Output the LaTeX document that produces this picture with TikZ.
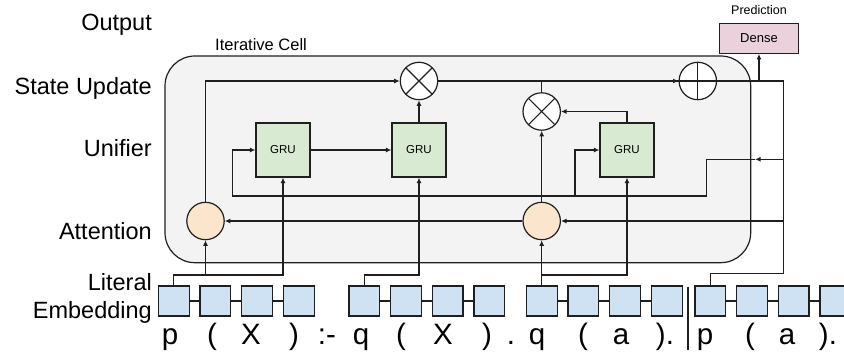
\documentclass[tikz,border=0pt]{standalone}
\usepackage{fontspec}
\setmainfont{Liberation Sans}
\usetikzlibrary{arrows.meta}
\newcommand\myfs[1]{\fontsize{#1}{#1}\selectfont}
\definecolor{linecol}{HTML}{1F1F1F}
\definecolor{cellfill}{HTML}{F3F3F3}
\definecolor{grugreen}{HTML}{D9EAD3}
\definecolor{peach}{HTML}{FCE5CD}
\definecolor{embblue}{HTML}{CFE2F3}
\definecolor{densepink}{HTML}{EAD1DC}
\begin{document}
\begin{tikzpicture}[x=1pt,y=-1pt,
  wire/.style={draw=linecol, line width=1.2pt},
  arr/.style={wire, -{Latex[length=5.5pt,width=5pt]}},
  cellbox/.style={draw=linecol, line width=1.2pt, fill=cellfill, rounded corners=30pt, inner sep=0pt},
  grubox/.style={draw=linecol, line width=1.2pt, fill=grugreen, minimum width=54pt, minimum height=54pt, inner sep=0pt, font=\myfs{11.5}},
  attn/.style={circle, draw=linecol, line width=1.2pt, fill=peach, minimum size=37.4pt, inner sep=0pt},
  opmul/.style={circle, draw=linecol, line width=1.2pt, fill=white, minimum size=37.4pt, inner sep=0pt,
    path picture={\draw[linecol, line width=1.1pt] (path picture bounding box.north west) -- (path picture bounding box.south east)
      (path picture bounding box.north east) -- (path picture bounding box.south west);}},
  opadd/.style={circle, draw=linecol, line width=1.2pt, fill=white, minimum size=37.4pt, inner sep=0pt,
    path picture={\draw[linecol, line width=1.1pt] (path picture bounding box.north) -- (path picture bounding box.south)
      (path picture bounding box.east) -- (path picture bounding box.west);}},
  emb/.style={draw=linecol, line width=1.1pt, fill=embblue, minimum width=30.7pt, minimum height=30pt, inner sep=0pt},
  densebox/.style={draw=linecol, line width=1.2pt, fill=densepink, minimum width=78.3pt, minimum height=30pt, inner sep=0pt, font=\myfs{13}},
  lbl/.style={anchor=base east, inner sep=0pt, font=\myfs{23.5}},
  tok/.style={anchor=base, inner sep=0pt, font=\myfs{29.5}},
  small/.style={anchor=base, inner sep=0pt, font=\myfs{12.5}}
]
\clip (0,0) rectangle (844,355);

% iterative cell
\node[cellbox, minimum width=585.7pt, minimum height=206.7pt] (cell) at (457.85,159.35) {};
\node[anchor=base west, inner sep=0pt, font=\myfs{16.5}] (celllbl) at (215,50.5) {Iterative Cell};

% row labels
\node[lbl] (lout) at (152,30.5) {Output};
\node[lbl] (lstate) at (152,94.5) {State Update};
\node[lbl] (lunif) at (152,156.5) {Unifier};
\node[lbl] (latt) at (152,240) {Attention};
\node[lbl] (llit) at (152,290.5) {Literal};
\node[lbl] (lemb) at (152,318.5) {Embedding};

% components
\node[attn] (att1) at (205.5,221) {};
\node[attn] (att2) at (541.7,221) {};
\node[grubox] (g1) at (283,150) {GRU};
\node[grubox] (g2) at (419,150) {GRU};
\node[grubox] (g3) at (627,150) {GRU};
\node[opmul] (m1) at (419,81) {};
\node[opmul] (m2) at (541.7,111.5) {};
\node[opadd] (plus) at (697.8,81) {};
\node[densebox] (dense) at (759,38.3) {Dense};
\node[small] (pred) at (759,15) {Prediction};

% embeddings
\foreach \g/\sx in {1/173.7,2/364.3,3/541.7,4/710.3}{
  \foreach \i in {1,...,4}{
    \node[emb] (e\g\i) at ({\sx+(\i-1)*41.67},301) {};
  }
  \draw[wire] (e\g1) -- (e\g2);
  \draw[wire] (e\g2) -- (e\g3);
  \draw[wire] (e\g3) -- (e\g4);
}

% tokens
\node[tok] (t1) at (170,345) {p};
\node[tok] (t2) at (212,345) {(};
\node[tok] (t3) at (251,345) {X};
\node[tok] (t4) at (294,345) {)};
\node[tok] (t5) at (327,345) {:-};
\node[tok] (t6) at (361,345) {q};
\node[tok] (t7) at (401,345) {(};
\node[tok] (t8) at (443,345) {X};
\node[tok] (t9) at (487,345) {)};
\node[tok] (t10) at (511,345) {.};
\node[tok] (t11) at (537,345) {q};
\node[tok] (t12) at (583,345) {(};
\node[tok] (t13) at (621,345) {a};
\node[tok] (t14) at (665,345) {).};
\node[tok] (t15) at (705,345) {p};
\node[tok] (t16) at (750,345) {(};
\node[tok] (t17) at (787,345) {a};
\node[tok] (t18) at (828,345) {).};
\coordinate (bart) at (687.7,286.7);
\coordinate (barb) at (687.7,350);
\draw[linecol, line width=2pt] (bart) -- (barb);

% helper coordinates
\coordinate (bus1) at (0,275);
\coordinate (rr) at (783.3,273.3);
\coordinate (rt) at (783.3,81);
\coordinate (s0) at (755,159.3);
\coordinate (s1) at (706.7,159.3);
\coordinate (u1) at (232.7,196);
\coordinate (u2) at (575,196);

% token inputs
\draw[arr] (e11.north) |- (bus1 -| g1.south) -- (g1.south);
\draw[arr] (att1 |- bus1) -- (att1.south);
\draw[arr] (e21.north) |- (bus1 -| g2.south) -- (g2.south);
\draw[arr] (e31.north) -- (att2.south);
\draw[arr] (e31.north |- bus1) -| (g3.south);
\draw[wire] (e41.north) |- (rr) -- (rt) -- (plus.east);
\draw[arr] (plus.east -| dense.south) -- (dense.south);

% attention lines
\draw[arr] (rr |- att2) -- (att2.east);
\draw[arr] (att2.west) -- (att1.east);

% unifier feedback
\draw[arr] (rr |- s0) -- (s0);
\draw[arr] (s0) -- (s1) |- (u1) |- (g1.west);
\draw[arr] (u2) |- (g3.west);

% GRU chain and state update
\draw[arr] (g1.east) -- (g2.west);
\draw[arr] (g2.north) -- (m1.south);
\draw[arr] (att1.north) |- (m1.west);
\draw[arr] (m1.east) -- (plus.west);
\draw[wire] (m2.north) |- (plus.west);
\draw[arr] (g3.north) |- (m2.east);
\draw[arr] (att2.north) -- (m2.south);
\end{tikzpicture}
\end{document}
